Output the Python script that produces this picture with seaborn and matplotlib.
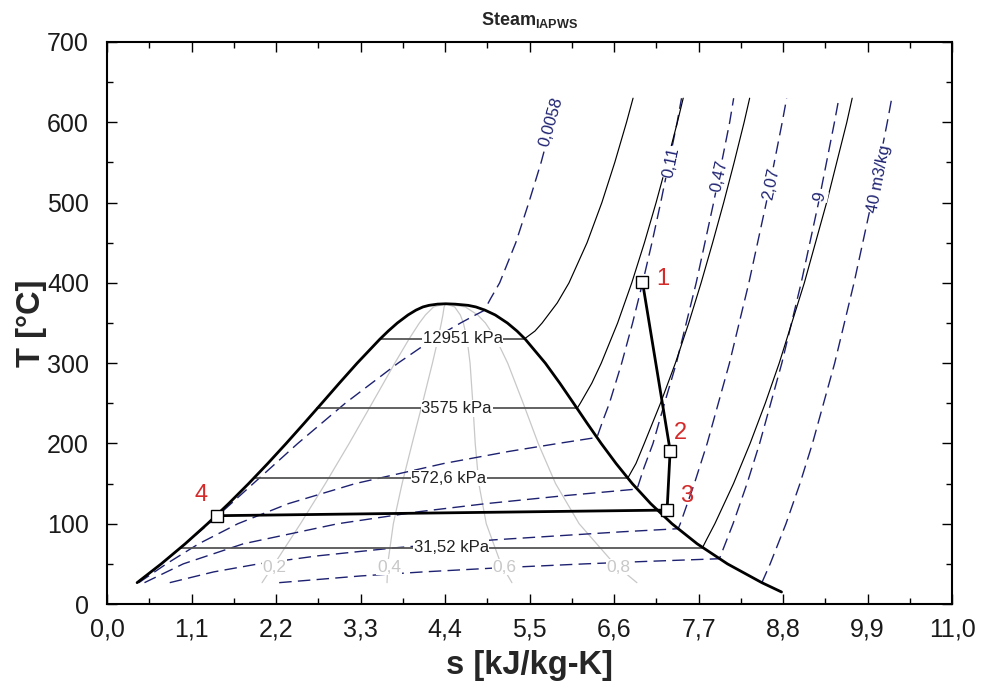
import matplotlib
matplotlib.use("Agg")
import matplotlib.pyplot as plt
from matplotlib.ticker import FixedLocator, MultipleLocator
import numpy as np
import seaborn as sns

# saturation dome (s in kJ/kg-K, T in C)
liq_T = [26.6, 50, 75, 100, 125, 150, 175, 200, 225, 250, 275, 300, 330, 340, 350, 360, 366, 370, 372, 373.5, 373.95]
liq_s = [0.390, 0.704, 1.016, 1.307, 1.581, 1.842, 2.091, 2.331, 2.564, 2.794, 3.022, 3.255, 3.552, 3.660, 3.778, 3.917, 4.020, 4.111, 4.19, 4.30, 4.407]
vap_T = [373.5, 372, 370, 366, 360, 350, 340, 330, 300, 275, 250, 225, 200, 175, 150, 125, 100, 75, 50, 26.6, 15]
vap_s = [4.53, 4.70, 4.801, 4.92, 5.053, 5.211, 5.336, 5.442, 5.705, 5.894, 6.073, 6.250, 6.432, 6.626, 6.837, 7.077, 7.354, 7.682, 8.076, 8.524, 8.78]

# isobars: label, saturation temp, sf, sg
p_labels = ["12951 kPa", "3575 kPa", "572,6 kPa", "31,52 kPa"]
p_tsat = [330.5, 243.6, 156.8, 70.2]
p_sf = [3.557, 2.735, 1.911, 0.958]
p_sg = [5.437, 6.118, 6.778, 7.751]
p_lab_s = [4.63, 4.55, 4.45, 4.48]

# superheated part of the isobars
p12951_T = [330.5, 340, 350, 375, 400, 450, 500, 550, 600, 630]
p12951_s = [5.437, 5.57, 5.663, 5.86, 6.013, 6.248, 6.441, 6.609, 6.762, 6.847]
p3575_T = [243.6, 250, 275, 300, 350, 400, 450, 500, 550, 600, 630]
p3575_s = [6.118, 6.16, 6.31, 6.433, 6.646, 6.830, 6.995, 7.147, 7.289, 7.424, 7.50]
p5726_T = [156.8, 175, 200, 250, 300, 350, 400, 450, 500, 550, 600, 630]
p5726_s = [6.778, 6.885, 6.993, 7.204, 7.398, 7.572, 7.733, 7.883, 8.027, 8.163, 8.293, 8.365]
p3152_T = [70.2, 80, 100, 150, 200, 250, 300, 400, 500, 600, 630]
p3152_s = [7.751, 7.803, 7.912, 8.155, 8.371, 8.568, 8.750, 9.077, 9.367, 9.630, 9.700]

# constant specific volume lines [m3/kg]
v0058_T = [26.6, 50, 100, 150, 200, 250, 300, 320, 340, 350, 360, 365.7, 380, 400, 450, 500, 550, 600, 630]
v0058_s = [0.391, 0.707, 1.324, 1.902, 2.482, 3.099, 3.787, 4.091, 4.421, 4.601, 4.795, 4.910, 4.99, 5.11, 5.32, 5.49, 5.65, 5.79, 5.85]
v011_T = [26.6, 50, 75, 100, 125, 150, 175, 190, 200, 207.5, 230, 250, 300, 350, 400, 450, 500, 600, 630]
v011_s = [0.412, 0.771, 1.192, 1.702, 2.359, 3.231, 4.382, 5.228, 5.873, 6.377, 6.46, 6.539, 6.699, 6.841, 6.971, 7.093, 7.207, 7.421, 7.478]
v047_T = [26.6, 50, 75, 100, 115, 125, 135, 140, 143.2, 170, 200, 250, 300, 400, 500, 600, 630]
v047_s = [0.486, 0.991, 1.773, 3.004, 4.059, 4.931, 5.959, 6.536, 6.899, 6.99, 7.107, 7.256, 7.411, 7.669, 7.896, 8.105, 8.157]
v207_T = [26.6, 40, 50, 60, 70, 80, 90, 93.8, 100, 150, 200, 300, 400, 500, 600, 630]
v207_s = [0.815, 1.387, 1.972, 2.742, 3.747, 5.049, 6.709, 7.434, 7.462, 7.645, 7.812, 8.102, 8.355, 8.582, 8.789, 8.847]
v9_T = [26.6, 35, 40, 45, 50, 53, 56.4, 60, 100, 150, 200, 300, 400, 500, 600, 630]
v9_s = [2.24, 3.306, 4.115, 5.079, 6.220, 6.998, 7.970, 7.986, 8.149, 8.331, 8.495, 8.784, 9.036, 9.262, 9.469, 9.527]
v40_T = [26.6, 50, 100, 150, 200, 300, 400, 500, 600, 630]
v40_s = [8.524, 8.632, 8.838, 9.020, 9.183, 9.472, 9.724, 9.951, 10.157, 10.215]
v_labels = ["0,0058", "0,11", "0,47", "2,07", "9", "40 m3/kg"]

# quality lines
q_T = [26.6, 50, 100, 150, 200, 250, 300, 330, 350, 360, 370, 373.95]
q02_s = [2.017, 2.178, 2.517, 2.841, 3.151, 3.449, 3.745, 3.930, 4.065, 4.144, 4.249, 4.407]
q04_s = [3.644, 3.653, 3.726, 3.840, 3.971, 4.105, 4.235, 4.308, 4.351, 4.371, 4.387, 4.407]
q06_s = [5.270, 5.127, 4.936, 4.839, 4.792, 4.761, 4.725, 4.686, 4.638, 4.598, 4.525, 4.407]
q08_s = [6.897, 6.602, 6.145, 5.838, 5.612, 5.417, 5.215, 5.064, 4.925, 4.825, 4.663, 4.407]
q_labels = ["0,2", "0,4", "0,6", "0,8"]

# cycle states 1-4
cyc_s = [6.97, 7.33, 7.29, 1.43]
cyc_T = [401, 191, 117, 110]
cyc_labels = ["1", "2", "3", "4"]

NAVY = "#1d2170"
DASH = (0, (9, 4.5))

sns.set_theme(style="ticks")
plt.rcParams["font.family"] = ["Liberation Sans", "DejaVu Sans"]
plt.rcParams["mathtext.fontset"] = "custom"
plt.rcParams["mathtext.rm"] = "Liberation Sans"
plt.rcParams["mathtext.bf"] = "Liberation Sans:bold"

fig, ax = plt.subplots(figsize=(9.83, 6.93), dpi=100)
fig.subplots_adjust(left=0.109, right=0.9685, bottom=0.1284, top=0.9394)


def curve(s, T, **kw):
    sns.lineplot(x=s, y=T, ax=ax, sort=False, estimator=None, legend=False, **kw)


# quality lines
for qs in [q02_s, q04_s, q06_s, q08_s]:
    curve(qs, q_T, color="#c8c8c8", linewidth=0.9)

# constant volume lines
for vs, vT in [(v0058_s, v0058_T), (v011_s, v011_T), (v047_s, v047_T),
               (v207_s, v207_T), (v9_s, v9_T), (v40_s, v40_T)]:
    curve(vs, vT, color=NAVY, linewidth=1.0, linestyle=DASH)

# isobars in the dome
for t, a, b in zip(p_tsat, p_sf, p_sg):
    curve([a, b], [t, t], color="#555555", linewidth=1.3)

# superheated isobars
for ps, pT in [(p12951_s, p12951_T), (p3575_s, p3575_T),
               (p5726_s, p5726_T), (p3152_s, p3152_T)]:
    curve(ps, pT, color="black", linewidth=0.85)

# dome
curve(liq_s + vap_s, liq_T + vap_T, color="black", linewidth=2.0)

# cycle
curve(cyc_s, cyc_T, color="black", linewidth=2.0, marker="s", markersize=8,
      markerfacecolor="white", markeredgecolor="black", markeredgewidth=1.0)

wbox = dict(facecolor="white", edgecolor="none", pad=0.5)

for lab, t, s in zip(p_labels, p_tsat, p_lab_s):
    ax.text(s, t, lab, fontsize=12, ha="center", va="center", color="#222222",
            bbox=wbox, zorder=4)

for lab, s in zip(q_labels, [2.18, 3.67, 5.17, 6.66]):
    ax.text(s, 46, lab, fontsize=12.5, ha="center", va="center", color="#c8c8c8",
            bbox=wbox, zorder=4)

v_pos = [(5.78, 601, 74), (7.34, 550, 78), (7.97, 533, 78),
         (8.65, 523, 78), (9.28, 508, 79), (10.05, 530, 79)]
for lab, (s, t, r) in zip(v_labels, v_pos):
    ax.text(s, t, lab, fontsize=12, ha="center", va="center", color=NAVY,
            rotation=r, rotation_mode="anchor", bbox=wbox, zorder=4)

for lab, (s, t) in zip(cyc_labels, [(7.23, 405), (7.46, 213), (7.54, 134), (1.22, 136)]):
    ax.text(s, t, lab, fontsize=17, ha="center", va="center", color="#d42a2a", zorder=6)

ax.set_xlim(0, 11)
ax.set_ylim(0, 700)
xt = np.arange(0, 11.01, 1.1)
ax.xaxis.set_major_locator(FixedLocator(xt))
ax.xaxis.set_minor_locator(FixedLocator(xt[:-1] + 0.55))
ax.set_xticklabels([f"{v:.1f}".replace(".", ",") for v in xt])
ax.yaxis.set_major_locator(MultipleLocator(100))
ax.yaxis.set_minor_locator(MultipleLocator(50))
ax.tick_params(which="both", direction="in", top=True, right=True, colors="black",
               labelsize=18, labelcolor="#1a1a1a")
ax.tick_params(which="major", length=7, width=1.0)
ax.tick_params(which="minor", length=4, width=1.0)
ax.tick_params(axis="y", pad=13)
ax.tick_params(axis="x", pad=10)
for sp in ax.spines.values():
    sp.set_linewidth(1.5)
    sp.set_color("black")

ax.set_xlabel("s [kJ/kg-K]", fontsize=23.5, fontweight="bold", labelpad=6)
ax.set_ylabel("T [°C]", fontsize=23.5, fontweight="bold", labelpad=0)
ax.set_title(r"$\mathbf{Steam}_{\mathbf{IAPWS}}$", fontsize=13, pad=12)

fig.savefig("out.png", dpi=100)
